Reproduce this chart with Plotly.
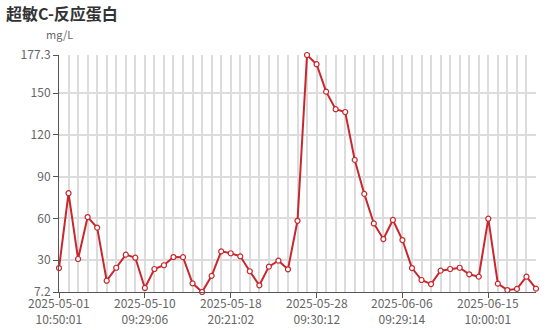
import plotly.graph_objects as go

title_text = "超敏C-反应蛋白"
unit_text = "mg/L"

values = [24.4, 78.1, 30.9, 61.0, 53.4, 15.3, 24.6, 34.0, 31.8, 10.1,
          23.7, 26.4, 32.3, 32.2, 13.4, 7.2, 18.8, 36.4, 35.0, 32.8,
          22.1, 12.0, 25.4, 29.7, 23.5, 58.3, 177.3, 170.7, 151.0, 138.4,
          136.4, 102.0, 77.6, 56.4, 45.2, 58.9, 44.5, 24.4, 15.8, 12.9,
          22.5, 23.7, 24.6, 19.9, 18.2, 59.8, 13.2, 8.6, 9.4, 18.2, 9.6]
x_index = list(range(len(values)))

tick_index = [0, 9, 18, 27, 36, 45]
tick_dates = ["2025-05-01", "2025-05-10", "2025-05-18", "2025-05-28", "2025-06-06", "2025-06-15"]
tick_times = ["10:50:01", "09:29:06", "20:21:02", "09:30:12", "09:29:14", "10:00:01"]

y_ticks = [7.2, 30, 60, 90, 120, 150, 177.3]
y_tick_labels = ["7.2", "30", "60", "90", "120", "150", "177.3"]

font_family = "Noto Sans CJK SC, Noto Sans, sans-serif"
line_color = "#c8282d"
label_font = dict(family=font_family, size=12, color="#666666")

fig = go.Figure()
fig.add_trace(go.Scatter(
    x=x_index, y=values, mode="lines+markers",
    line=dict(color=line_color, width=2),
    marker=dict(symbol="circle", size=5, color="white", line=dict(color=line_color, width=1.2)),
    cliponaxis=False, showlegend=False, hoverinfo="y",
))

annotations = [dict(text=unit_text, xref="paper", yref="paper", x=0, y=1, xanchor="center",
                    yanchor="middle", yshift=21, showarrow=False,
                    font=dict(family=font_family, size=11, color="#666666"))]
for xi, d, t in zip(tick_index, tick_dates, tick_times):
    annotations.append(dict(text=d + "<br>" + t, x=xi, xref="x", y=0, yref="paper",
                            xanchor="center", yanchor="middle", yshift=-18.3,
                            showarrow=False, borderpad=0, font=label_font))

fig.update_layout(
    width=553, height=330,
    margin=dict(l=59, r=17, t=55, b=38, autoexpand=False),
    paper_bgcolor="white", plot_bgcolor="white",
    font=dict(family=font_family, size=12, color="#666666"),
    title=dict(text="<b>" + title_text + "</b>", x=6/553, xanchor="left", xref="container",
               y=1 - 14/330, yanchor="middle", yref="container",
               font=dict(family=font_family, size=16, color="#333333")),
    annotations=annotations,
)

fig.update_xaxes(
    range=[0, len(values) - 1], automargin=False,
    tickmode="array", tickvals=tick_index, showticklabels=False,
    showgrid=False, zeroline=False,
    showline=True, linecolor="#555555", linewidth=1,
    ticks="outside", ticklen=5, tickcolor="#555555",
    minor=dict(tickmode="linear", tick0=0, dtick=1, showgrid=True, gridcolor="#dcdcdc", gridwidth=1.5, ticks=""),
)
fig.update_yaxes(
    range=[7.2, 177.3], automargin=False,
    tickmode="array", tickvals=y_ticks, ticktext=y_tick_labels,
    showgrid=True, gridcolor="#dcdcdc", gridwidth=1.5, zeroline=False,
    showline=True, linecolor="#555555", linewidth=1,
    ticks="outside", ticklen=5, tickcolor="#555555",
    tickfont=dict(size=12, color="#666666"),
)

fig.write_html("out.html")
